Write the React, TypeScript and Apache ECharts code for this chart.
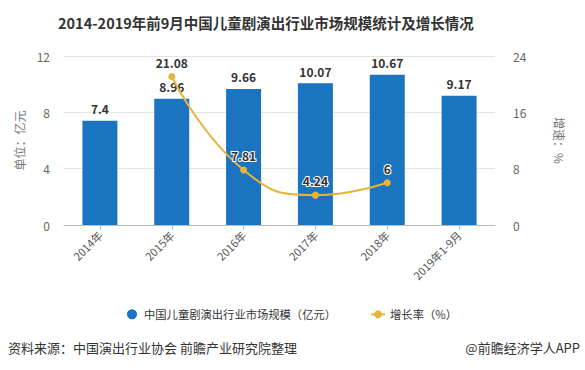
import React, { useEffect, useRef } from "react";
import * as echarts from "echarts";

const categories = ["2014年", "2015年", "2016年", "2017年", "2018年", "2019年1-9月"];
const marketSize = [7.4, 8.96, 9.66, 10.07, 10.67, 9.17];
const growthRate = [null, 21.08, 7.81, 4.24, 6, null];
const leftTicks = { min: 0, max: 12, interval: 4 };
const rightTicks = { min: 0, max: 24, interval: 8 };

const FONT = "'Noto Sans CJK SC', 'Noto Sans', sans-serif";

export default function App() {
  const ref = useRef<HTMLDivElement>(null);
  useEffect(() => {
    if (!ref.current) return;
    const chart = echarts.init(ref.current, undefined, { renderer: "svg" });
    chart.setOption({
      animation: false,
      textStyle: { fontFamily: FONT },
      title: {
        text: "2014-2019年前9月中国儿童剧演出行业市场规模统计及增长情况",
        left: 53,
        top: 10,
        textStyle: { fontSize: 14.5, fontWeight: "bold", color: "#333", fontFamily: FONT },
      },
      grid: { left: 64, right: 90, top: 56, bottom: 145 },
      legend: {
        bottom: 45,
        left: 122,
        itemGap: 34,
        itemWidth: 14,
        itemHeight: 10,
        textStyle: { fontSize: 11.3, color: "#333", fontFamily: FONT },
        data: [
          { name: "中国儿童剧演出行业市场规模（亿元）", icon: "circle" },
          { name: "增长率（%）" },
        ],
      },
      xAxis: {
        type: "category",
        data: categories,
        axisLine: { lineStyle: { color: "#bbb" } },
        axisTick: { show: true, alignWithLabel: true, lineStyle: { color: "#bbb" } },
        axisLabel: { rotate: 45, fontSize: 11, color: "#555", margin: 8 },
      },
      yAxis: [
        {
          type: "value",
          ...leftTicks,
          name: "单位：亿元",
          nameLocation: "middle",
          nameRotate: 90,
          nameGap: 32,
          nameTextStyle: { fontSize: 12, color: "#777" },
          axisLine: { show: false },
          axisTick: { show: false },
          axisLabel: { fontSize: 12, color: "#666", margin: 14 },
          splitLine: { lineStyle: { color: "#e3e3e3" } },
        },
        {
          type: "value",
          ...rightTicks,
          name: "增速：%",
          nameLocation: "middle",
          nameRotate: -90,
          nameGap: 58,
          nameTextStyle: { fontSize: 12, color: "#777" },
          axisLine: { show: false },
          axisTick: { show: false },
          axisLabel: { fontSize: 12, color: "#666", margin: 18 },
          splitLine: { show: false },
        },
      ],
      series: [
        {
          name: "中国儿童剧演出行业市场规模（亿元）",
          type: "bar",
          data: marketSize,
          barWidth: 35,
          itemStyle: { color: "#1b74c0" },
          label: {
            show: true,
            position: "top",
            fontSize: 12,
            fontWeight: "bold",
            color: "#333",
            distance: 6,
          },
        },
        {
          name: "增长率（%）",
          type: "line",
          yAxisIndex: 1,
          data: growthRate,
          smooth: true,
          symbol: "circle",
          symbolSize: 7,
          lineStyle: { color: "#e8b33c", width: 2 },
          itemStyle: { color: "#e8b33c" },
          label: {
            show: true,
            position: "top",
            fontSize: 12,
            fontWeight: "bold",
            color: "#333",
            textBorderColor: "#fff",
            textBorderWidth: 2,
            distance: 5,
          },
        },
      ],
      graphic: [
        {
          type: "text",
          left: 8,
          top: 341,
          style: {
            text: "资料来源：中国演出行业协会 前瞻产业研究院整理",
            fontSize: 13,
            fill: "#333",
            fontFamily: FONT,
          },
        },
        {
          type: "text",
          right: 5,
          top: 341,
          style: {
            text: "@前瞻经济学人APP",
            fontSize: 13,
            fill: "#333",
            fontFamily: FONT,
          },
        },
      ],
    });
    return () => chart.dispose();
  }, []);
  return (
    <div
      ref={ref}
      style={{ position: "absolute", left: 0, top: 0, width: 585, height: 370, background: "#fff" }}
    />
  );
}
